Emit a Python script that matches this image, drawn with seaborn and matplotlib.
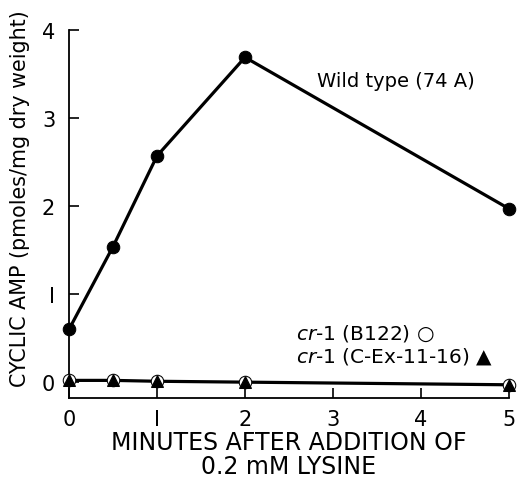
import matplotlib
matplotlib.use("Agg")
import matplotlib.pyplot as plt
import seaborn as sns
import pandas as pd

# Cyclic AMP after lysine addition
minutes = [0, 0.5, 1, 2, 5]
wild_type = [0.60, 1.54, 2.57, 3.69, 1.97]
cr1_b122 = [0.02, 0.02, 0.01, 0.00, -0.03]
cr1_cex = [0.02, 0.02, 0.01, 0.00, -0.03]

x_ticks = [0, 1, 2, 3, 4, 5]
x_tick_labels = ["0", "I", "2", "3", "4", "5"]
y_ticks = [0, 1, 2, 3, 4]
y_tick_labels = ["0", "I", "2", "3", "4"]

sns.set_theme(style="ticks")
plt.rcParams["font.family"] = ["DejaVu Sans"]

fig = plt.figure(figsize=(5.17, 4.81), dpi=100)
ax = fig.add_axes([0.1335, 0.1705, 0.851, 0.765])

df_wt = pd.DataFrame({"min": minutes, "camp": wild_type})
df_b = pd.DataFrame({"min": minutes, "camp": cr1_b122})
df_c = pd.DataFrame({"min": minutes, "camp": cr1_cex})

sns.lineplot(data=df_wt, x="min", y="camp", ax=ax, color="black", lw=2.3,
             marker="o", markersize=9, markeredgecolor="black",
             markerfacecolor="black", clip_on=False, zorder=3)
sns.lineplot(data=df_b, x="min", y="camp", ax=ax, color="black", lw=2.3,
             marker="o", markersize=9, markeredgecolor="black",
             markerfacecolor="white", clip_on=False, zorder=3)
sns.lineplot(data=df_c, x="min", y="camp", ax=ax, color="black", lw=0,
             marker="^", markersize=8.5, markeredgecolor="black",
             markerfacecolor="black", clip_on=False, zorder=4)

ax.set_xlim(0, 5)
ax.set_ylim(-0.18, 4)
ax.set_xticks(x_ticks)
ax.set_xticklabels(x_tick_labels)
ax.set_yticks(y_ticks)
ax.set_yticklabels(y_tick_labels)
ax.tick_params(axis="both", direction="in", length=7, width=1.2,
               colors="black", labelsize=15, pad=8,
               bottom=True, left=True)
ax.tick_params(axis="y", pad=10)

for side in ["top", "right"]:
    ax.spines[side].set_visible(False)
for side in ["left", "bottom"]:
    ax.spines[side].set_color("black")
    ax.spines[side].set_linewidth(1.3)

ax.set_xlabel("MINUTES AFTER ADDITION OF\n0.2 mM LYSINE", fontsize=17,
              color="black", labelpad=1, linespacing=1.0)
ax.set_ylabel("CYCLIC AMP (pmoles/mg dry weight)", fontsize=14.9,
              color="black")
ax.yaxis.set_label_coords(-0.088, 0.545)

ax.text(2.82, 3.36, "Wild type (74 A)", fontsize=14, color="black")
ax.text(2.58, 0.50, r"$\it{cr}$" + "-1 (B122) \u25CB", fontsize=14.5,
        color="black")
ax.text(2.58, 0.24, r"$\it{cr}$" + "-1 (C-Ex-11-16) \u25B2", fontsize=14.5,
        color="black")

fig.savefig("out.png", dpi=100)
